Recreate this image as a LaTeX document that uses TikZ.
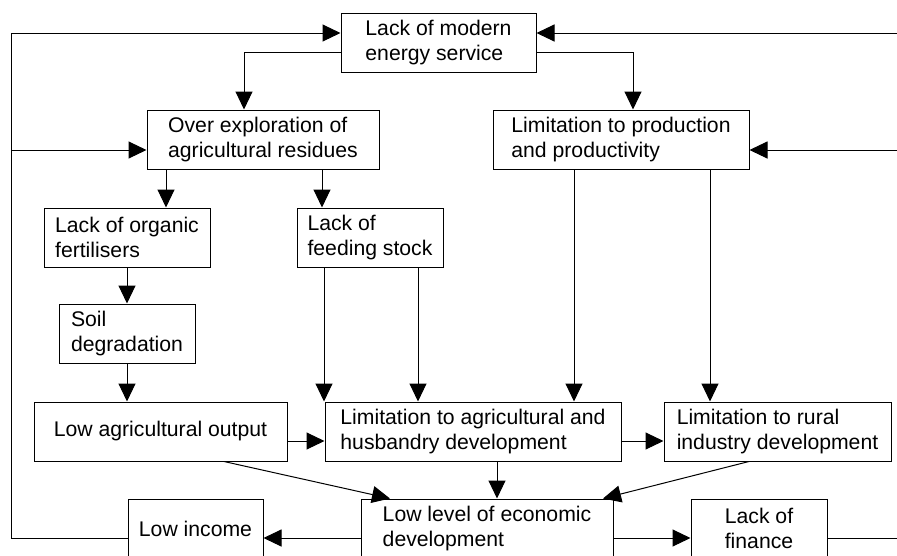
\documentclass[tikz,border=0pt]{standalone}
\usepackage{fontspec}
\setmainfont{Liberation Sans}
\usetikzlibrary{arrows.meta}

\begin{document}
\begin{tikzpicture}[x=1pt,y=-1pt,line width=1pt,
    box/.style={draw,minimum height=59pt,align=left,inner sep=0pt,font=\fontsize{21.2}{25}\selectfont},
    arr/.style={-{Triangle[length=18pt,width=17pt]}}]
    \useasboundingbox (0,0) rectangle (897,555);
    \clip (0,0) rectangle (897,555);
    \node[box,minimum width=195pt] (energy) at (438.5,42.5) {Lack of modern\\energy service};
    \node[box,minimum width=232pt] (overexp) at (263,139.5) {Over exploration of\\agricultural residues};
    \node[box,minimum width=256pt] (limprod) at (621,139.5) {Limitation to production\\and productivity};
    \node[box,minimum width=166pt] (organic) at (127,237.5) {Lack of organic\\fertilisers};
    \node[box,minimum width=146pt] (feeding) at (370,237.5) {Lack of\\feeding stock};
    \node[box,minimum width=136pt] (soil) at (127,333.5) {Soil\\degradation};
    \node[box,minimum width=253pt] (lowout) at (160.5,431.5) {Low agricultural output};
    \node[box,minimum width=296pt] (limagri) at (473,431.5) {Limitation to agricultural and\\husbandry development};
    \node[box,minimum width=227pt] (limrural) at (777.5,431.5) {Limitation to rural\\industry development};
    \node[box,minimum width=135pt] (lowinc) at (195.5,528.5) {Low income};
    \node[box,minimum width=252pt] (lowecon) at (487,528.5) {Low level of economic\\development};
    \node[box,minimum width=136pt] (finance) at (759,528.5) {Lack of\\finance};
    % energy service down to both branches
    \draw[arr] (energy.west |- 0,52) -- (244,52) -- (overexp.north -| 244,0);
    \draw[arr] (energy.east |- 0,52) -- (633,52) -- (limprod.north -| 633,0);
    \draw[arr] (overexp.south -| 166,0) -- (organic.north -| 166,0);
    \draw[arr] (overexp.south -| 322,0) -- (feeding.north -| 322,0);
    \draw[arr] (organic) -- (soil);
    \draw[arr] (soil.south) -- (lowout.north -| soil.south);
    \draw[arr] (feeding.south -| 324,0) -- (limagri.north -| 324,0);
    \draw[arr] (feeding.south -| 418,0) -- (limagri.north -| 418,0);
    \draw[arr] (limprod.south -| 574,0) -- (limagri.north -| 574,0);
    \draw[arr] (limprod.south -| 710,0) -- (limrural.north -| 710,0);
    \draw[arr] (lowout.east |- 0,441) -- (limagri.west |- 0,441);
    \draw[arr] (limagri.east |- 0,441) -- (limrural.west |- 0,441);
    \draw[arr] (lowout.south -| 224,0) -- (lowecon.north -| 390,0);
    \draw[arr] (limagri.south -| 497,0) -- (lowecon.north -| 497,0);
    \draw[arr] (limrural.south -| 749,0) -- (lowecon.north -| 603,0);
    \draw[arr] (lowecon.west |- 0,538) -- (lowinc.east |- 0,538);
    \draw[arr] (lowecon.east |- 0,538) -- (finance.west |- 0,538);
    % loops round the sides
    \draw[arr] (lowinc.west |- 0,538) -- (11,538) -- (11,33) -- (energy.west |- 0,33);
    \draw[arr] (11,150) -- (overexp.west |- 0,150);
    \draw[arr] (finance.east |- 0,538) -- (930,538) -- (930,33) -- (energy.east |- 0,33);
    \draw[arr] (930,150) -- (limprod.east |- 0,150);
\end{tikzpicture}
\end{document}
